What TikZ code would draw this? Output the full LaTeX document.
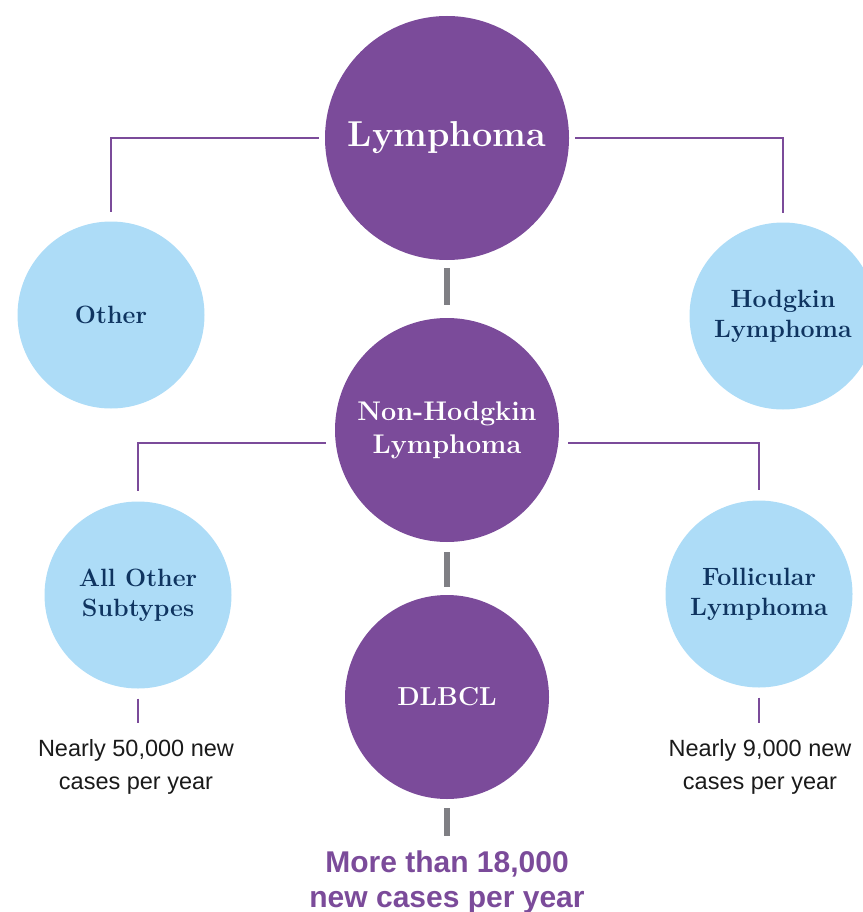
\documentclass[tikz,border=0pt]{standalone}
\usepackage{fontspec}
\newfontfamily\sansf{Liberation Sans}
\usetikzlibrary{calc}
\definecolor{lpurple}{HTML}{7B4B9A}
\definecolor{lblue}{HTML}{ADDCF7}
\definecolor{navy}{HTML}{0F3460}
\definecolor{lgray}{HTML}{7F7F84}
\definecolor{txt}{HTML}{1A1A1A}
\begin{document}
\begin{tikzpicture}[x=1pt,y=-1pt,
  circ/.style={circle, inner sep=0pt, align=center},
  pc/.style={circ, fill=lpurple, text=white},
  bc/.style={circ, fill=lblue, text=navy, minimum size=187pt, font=\bfseries\fontsize{25}{30}\selectfont},
  conn/.style={draw=lpurple, line width=2pt},
  gconn/.style={draw=lgray, line width=6pt},
  note/.style={inner sep=0pt, align=center, anchor=north, text=txt, font=\sansf\fontsize{23.5}{33}\selectfont}
]
\useasboundingbox (0,0) rectangle (862,912);
\node[pc, minimum size=244pt, font=\bfseries\fontsize{36}{40}\selectfont] (lym) at (447,138) {Lymphoma};
\node[bc] (oth) at (111,315) {Other};
\node[bc] (hod) at (783,316) {Hodgkin\\Lymphoma};
\node[pc, minimum size=224pt, font=\bfseries\fontsize{27}{33}\selectfont] (nhl) at (447,430) {Non-Hodgkin\\Lymphoma};
\node[bc] (aos) at (138,595) {All Other\\Subtypes};
\node[bc] (fol) at (759,594) {Follicular\\Lymphoma};
\node[pc, minimum size=204pt, font=\bfseries\fontsize{26}{30}\selectfont] (dl) at (447,697) {DLBCL};
\node[note] (t1) at (136,739) {Nearly 50,000 new\\cases per year};
\node[note] (t2) at (760,739) {Nearly 9,000 new\\cases per year};
\node[note, text=lpurple, font=\sansf\bfseries\fontsize{30}{35}\selectfont] (t3) at (447,851) {More than 18,000\\new cases per year};
\draw[conn] ([xshift=-6pt]lym.west) -| ([yshift=9pt]oth.north);
\draw[conn] ([xshift=6pt]lym.east) -| ([yshift=9pt]hod.north);
\draw[gconn, shorten <=8pt, shorten >=13pt] (lym) -- (nhl);
\draw[conn] ($(nhl.west)+(-9,13)$) -| ([yshift=10pt]aos.north);
\draw[conn] ($(nhl.east)+(9,13)$) -| ([yshift=10pt]fol.north);
\draw[gconn, shorten <=10pt, shorten >=8pt] (nhl) -- (dl);
\draw[conn, shorten <=10pt, shorten >=16pt] (aos.south) -- (aos.south |- t1.north);
\draw[conn, shorten <=10pt, shorten >=16pt] (fol.south) -- (fol.south |- t2.north);
\draw[gconn, shorten <=9pt, shorten >=15pt] (dl.south) -- (t3.north);
\end{tikzpicture}
\end{document}
